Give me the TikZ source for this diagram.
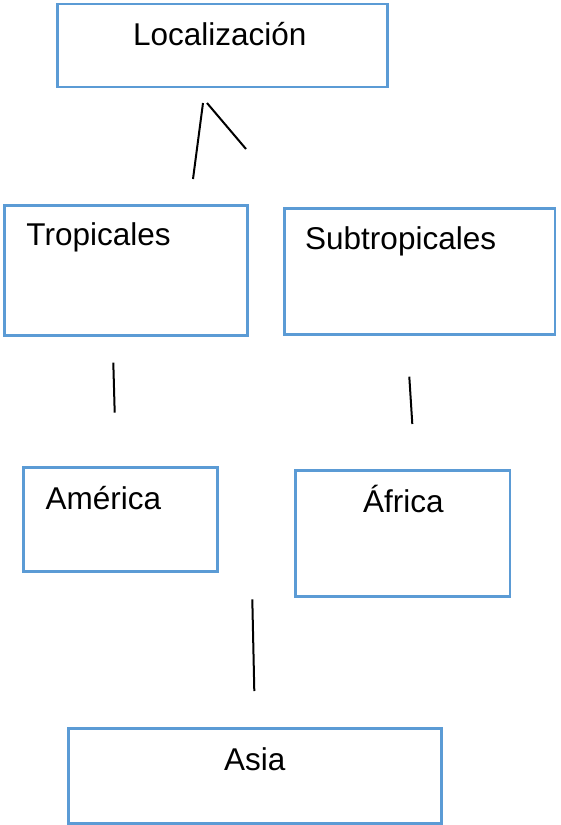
\documentclass[tikz,border=0pt]{standalone}
\usepackage{fontspec}
\setmainfont{Liberation Sans}
\usepackage{tikz}
\usetikzlibrary{positioning}
\definecolor{boxblue}{HTML}{5B9BD5}
\tikzset{box/.style={draw=boxblue,line width=2.5pt,rectangle,inner sep=0pt}}
\tikzset{lbl/.style={anchor=base west,inner sep=0pt}}
\tikzset{stroke/.style={draw=black,line width=2pt}}

\begin{document}
\begin{tikzpicture}[x=1pt,y=-1pt,font=\fontsize{31.5}{38}\selectfont]
  \useasboundingbox (0,0) rectangle (560,825);
  \node(loc)[box,minimum width=330pt,minimum height=83pt] at (222.3,45.3){};
  \node(trop)[box,minimum width=243.4pt,minimum height=130.4pt] at (126,270.5){};
  \node(subtrop)[box,minimum width=270.7pt,minimum height=125.6pt] at (419.7,271.5){};
  \node(amer)[box,minimum width=194.4pt,minimum height=104pt] at (120.5,519.3){};
  \node(afr)[box,minimum width=214.7pt,minimum height=126pt] at (402.7,533.7){};
  \node(asia)[box,minimum width=373.4pt,minimum height=94.6pt] at (255,776){};
  \node(loc-t)[lbl] at (133,45){Localización};
  \node(trop-t)[lbl] at (26.3,245.7){Tropicales};
  \node(subtrop-t)[lbl] at (305,249.3){Subtropicales};
  \node(amer-t)[lbl] at (45.5,509.3){América};
  \node(afr-t)[lbl] at (363,512){África};
  \node(asia-t)[lbl] at (224,770){Asia};
  \coordinate(a1) at (203,103);
  \coordinate(a2) at (193,179);
  \coordinate(b1) at (207,103);
  \coordinate(b2) at (246,149);
  \coordinate(c1) at (113.3,362.7);
  \coordinate(c2) at (114.7,412.7);
  \coordinate(d1) at (409.3,376.7);
  \coordinate(d2) at (412.3,424);
  \coordinate(e1) at (252.3,599.3);
  \coordinate(e2) at (254.3,691);
  \draw[stroke]
   (a1) -- (a2)
   (b1) -- (b2)
   (c1) -- (c2)
   (d1) -- (d2)
   (e1) -- (e2);
\end{tikzpicture}
\end{document}
